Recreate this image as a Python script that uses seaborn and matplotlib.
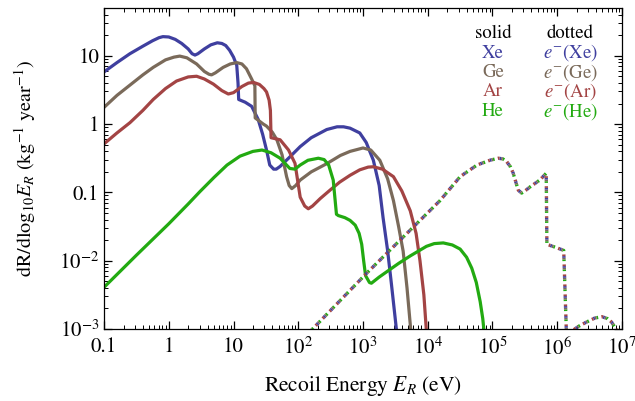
import numpy as np
import matplotlib
matplotlib.use("Agg")
import matplotlib.pyplot as plt
import seaborn as sns

sns.set_theme(style="ticks")
plt.rcParams['font.family'] = ['STIXGeneral', 'DejaVu Serif']
plt.rcParams['mathtext.fontset'] = 'stix'
plt.rcParams['lines.scale_dashes'] = False

BLUE = '#3f3f9f'
TAUPE = '#7a6a5a'
RED = '#a34444'
GREEN = '#22aa11'

# curves, as log10(E_R / eV) and log10(dR/dlog10 E_R)
xe_logE = [-1.0, -0.8, -0.6, -0.4, -0.25, -0.15, -0.09, 0.0, 0.1, 0.2, 0.3, 0.36,
           0.405, 0.45, 0.55, 0.65, 0.75, 0.82, 0.88, 0.94, 1.0, 1.05, 1.07, 1.08,
           1.18, 1.28, 1.38, 1.45, 1.51, 1.56, 1.62, 1.66, 1.72, 1.85, 2.03, 2.2,
           2.44, 2.6, 2.7, 2.8, 2.95, 3.05, 3.16, 3.25, 3.31, 3.38, 3.44, 3.52, 3.56]
xe_logR = [0.763, 0.9, 1.03, 1.14, 1.22, 1.265, 1.28, 1.275, 1.24, 1.18, 1.1, 1.03,
           1.01, 1.03, 1.1, 1.16, 1.19, 1.18, 1.15, 1.08, 0.98, 0.86, 0.6, 0.36,
           0.32, 0.26, 0.07, -0.15, -0.38, -0.6, -0.66, -0.66, -0.62, -0.5, -0.33, -0.2,
           -0.08, -0.04, -0.04, -0.06, -0.13, -0.27, -0.53, -0.9, -1.37, -1.85, -2.35, -3.04, -3.3]

ge_logE = [-1.0, -0.8, -0.6, -0.4, -0.24, -0.05, 0.08, 0.17, 0.28, 0.43, 0.55, 0.62,
           0.66, 0.72, 0.84, 0.95, 1.05, 1.13, 1.2, 1.28, 1.33, 1.335, 1.46, 1.51,
           1.6, 1.67, 1.75, 1.82, 1.86, 1.9, 1.96, 2.03, 2.2, 2.44, 2.65, 2.8,
           3.0, 3.12, 3.26, 3.38, 3.47, 3.55, 3.62, 3.68, 3.74, 3.78]
ge_logR = [0.244, 0.42, 0.57, 0.72, 0.83, 0.94, 0.98, 0.995, 0.97, 0.88, 0.77, 0.73,
           0.72, 0.75, 0.83, 0.88, 0.9, 0.88, 0.81, 0.66, 0.56, 0.09, 0.0, -0.03,
           -0.12, -0.23, -0.45, -0.77, -0.9, -0.945, -0.9, -0.82, -0.7, -0.58, -0.46, -0.40,
           -0.35, -0.38, -0.53, -0.8, -1.12, -1.5, -1.86, -2.4, -3.04, -3.3]

ar_logE = [-1.0, -0.8, -0.6, -0.4, -0.24, -0.05, 0.12, 0.3, 0.43, 0.55, 0.69, 0.82,
           0.92, 1.0, 1.13, 1.23, 1.31, 1.4, 1.47, 1.51, 1.55, 1.57, 1.58, 1.72,
           1.85, 1.95, 2.03, 2.1, 2.155, 2.22, 2.34, 2.5, 2.64, 2.8, 2.95, 3.08,
           3.16, 3.3, 3.47, 3.6, 3.73, 3.82, 3.88, 3.94, 3.98, 4.02]
ar_logR = [-0.29, -0.13, 0.02, 0.2, 0.36, 0.52, 0.63, 0.69, 0.70, 0.66, 0.585, 0.49,
           0.44, 0.46, 0.55, 0.6, 0.61, 0.58, 0.52, 0.47, 0.35, 0.2, -0.2, -0.23,
           -0.38, -0.575, -1.07, -1.2, -1.24, -1.2, -1.09, -0.96, -0.85, -0.75, -0.67, -0.63,
           -0.625, -0.66, -0.77, -0.98, -1.27, -1.6, -2.0, -2.5, -3.04, -3.3]

he_logE = [-1.0, -0.5, 0.0, 0.3, 0.48, 0.7, 0.9, 1.1, 1.3, 1.44, 1.58, 1.72,
           1.87, 1.95, 2.03, 2.15, 2.31, 2.4, 2.47, 2.54, 2.59, 2.62, 2.72, 2.80,
           2.88, 2.94, 2.98, 3.01, 3.04, 3.1, 3.13, 3.25, 3.37, 3.55, 3.73, 3.98,
           4.1, 4.24, 4.38, 4.50, 4.6, 4.68, 4.75, 4.81, 4.85, 4.87, 4.90]
he_logR = [-2.39, -1.92, -1.46, -1.17, -0.99, -0.78, -0.6, -0.47, -0.4, -0.38, -0.42, -0.50,
           -0.65, -0.66, -0.6, -0.53, -0.50, -0.52, -0.6, -0.82, -1.32, -1.34, -1.37, -1.41,
           -1.48, -1.6, -1.76, -2.0, -2.22, -2.32, -2.33, -2.24, -2.16, -2.04, -1.93, -1.79,
           -1.75, -1.74, -1.77, -1.83, -1.95, -2.11, -2.32, -2.60, -2.85, -3.04, -3.3]

el_logE = [2.1, 2.18, 3.06, 4.19, 4.50, 4.76, 4.96, 5.09, 5.16, 5.22, 5.28, 5.32,
           5.37, 5.40, 5.45, 5.5, 5.58, 5.73, 5.83, 5.84, 5.99, 6.10, 6.15, 6.22,
           6.27, 6.35, 6.45, 6.58, 6.69, 6.78, 6.84, 6.92, 6.96]
el_logR = [-3.1, -3.04, -2.18, -1.12, -0.77, -0.60, -0.53, -0.50, -0.51, -0.55, -0.63, -0.72,
           -0.88, -0.97, -1.01, -0.98, -0.92, -0.82, -0.72, -1.76, -1.81, -1.85, -3.3, -3.3,
           -3.0, -2.95, -2.9, -2.84, -2.82, -2.85, -2.9, -3.02, -3.2]

x_ticks = [0.1, 1, 10, 1e2, 1e3, 1e4, 1e5, 1e6, 1e7]
x_ticklabels = ['0.1', '1', '10', '$10^2$', '$10^3$', '$10^4$', '$10^5$', '$10^6$', '$10^7$']
y_ticks = [1e-3, 1e-2, 0.1, 1, 10]
y_ticklabels = ['$10^{-3}$', '$10^{-2}$', '0.1', '1', '10']

solid = [('Xe', xe_logE, xe_logR, BLUE), ('Ge', ge_logE, ge_logR, TAUPE),
         ('Ar', ar_logE, ar_logR, RED), ('He', he_logE, he_logR, GREEN)]

fig = plt.figure(figsize=(6.35, 4.01), dpi=100)
ax = fig.add_axes([0.1638, 0.1796, 0.8157, 0.8004])

for name, lx, ly, col in solid:
    sns.lineplot(x=10**np.array(lx), y=10**np.array(ly), color=col, linewidth=2.3,
                 estimator=None, sort=False, ax=ax)

# electron recoil curve, same for all targets: interleaved coloured dashes
for col, off in [(GREEN, 0.0), (TAUPE, 1.2), (BLUE, 2.4), (RED, 3.6)]:
    sns.lineplot(x=10**np.array(el_logE), y=10**np.array(el_logR), color=col, linewidth=2.4,
                 linestyle=(off, (1.2, 6.0)), estimator=None, sort=False, ax=ax)

ax.set_xscale('log')
ax.set_yscale('log')
ax.set_xlim(0.1, 1e7)
ax.set_ylim(1e-3, 50)
ax.set_xticks(x_ticks)
ax.set_xticklabels(x_ticklabels)
ax.set_yticks(y_ticks)
ax.set_yticklabels(y_ticklabels)
ax.tick_params(which='both', direction='in', top=True, right=True, color='black',
               labelsize=15, labelcolor='black')
ax.tick_params(axis='x', which='major', pad=6)
ax.tick_params(which='major', length=6, width=0.9)
ax.tick_params(which='minor', length=3, width=0.7)
for s in ax.spines.values():
    s.set_color('black')
    s.set_linewidth(0.9)

ax.set_xlabel('Recoil Energy $E_R$ (eV)', fontsize=15.5, color='black')
ax.set_ylabel('dR/dlog$_{10}E_R$ (kg$^{-1}$ year$^{-1}$)', fontsize=14.5, color='black')
ax.xaxis.set_label_coords(0.5, -0.14)
ax.yaxis.set_label_coords(-0.128, 0.5)

# text legend
ax.text(0.751, 0.922, 'solid', transform=ax.transAxes, ha='center', va='center',
        fontsize=13.5, color='black')
ax.text(0.900, 0.922, 'dotted', transform=ax.transAxes, ha='center', va='center',
        fontsize=13.5, color='black')
for k, (name, lx, ly, col) in enumerate(solid):
    yy = 0.860 - k * 0.0607
    ax.text(0.751, yy, name, transform=ax.transAxes, ha='center', va='center',
            fontsize=13.5, color=col)
    ax.text(0.900, yy, '$e^{-}$(' + name + ')', transform=ax.transAxes, ha='center',
            va='center', fontsize=13.5, color=col)

fig.savefig('out.png', dpi=100)
